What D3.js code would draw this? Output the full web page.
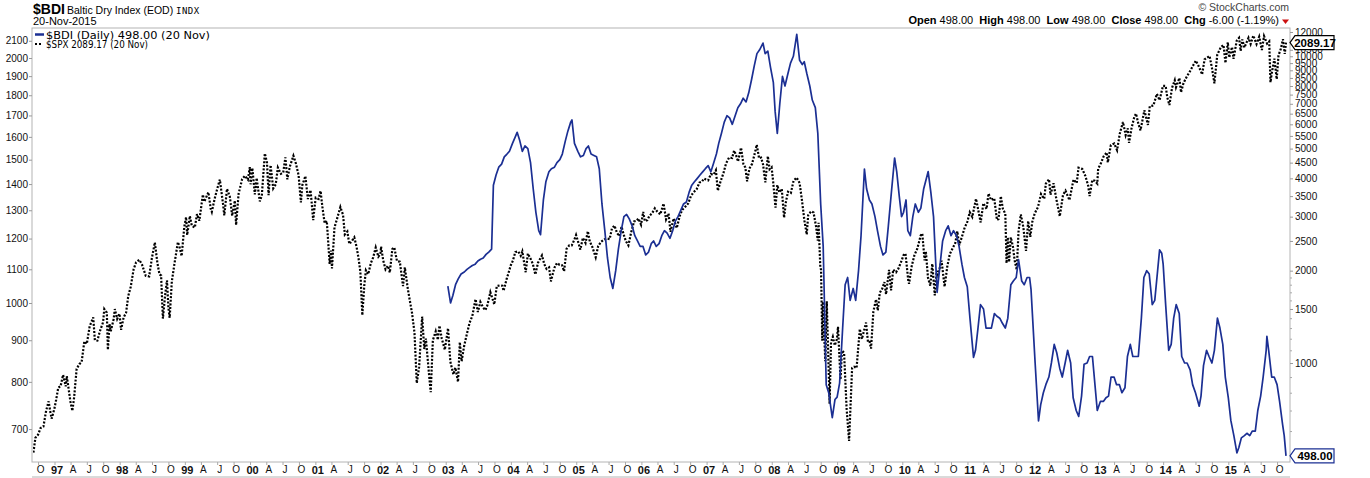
<!DOCTYPE html>
<html><head><meta charset="utf-8">
<script src="https://cdn.jsdelivr.net/npm/d3@7"></script>
<style>body{margin:0;background:#fff}svg{display:block}</style>
</head><body>
<svg id="c" width="1370" height="478"></svg>
<script>
// ---------- DATA ([month, day, value]) ----------
const spx1996 = [[9,5,655],[9,16,683],[10,1,689],[10,15,702],[10,31,705],[11,15,737],[11,29,757],[12,10,732],[12,16,721],[12,31,741]];
const spx1997 = [[1,10,760],[1,22,787],[2,4,790],[2,18,816],[3,5,790],[3,11,813],[3,31,757],[4,11,737],[4,21,766],[5,5,830],[5,20,841],[6,2,846],[6,17,897],[7,1,891],[7,17,936],[8,6,960],[8,15,900],[8,29,899],[9,12,923],[9,30,947],[10,7,983],[10,21,973],[10,27,876],[11,5,942],[11,12,923],[11,28,955],[12,5,983],[12,18,956],[12,31,970]];
const spx1998 = [[1,9,927],[1,23,960],[2,6,973],[2,18,1020],[3,4,1047],[3,20,1100],[4,3,1122],[4,21,1130],[5,6,1115],[5,27,1080],[6,15,1078],[6,30,1134],[7,17,1187],[7,31,1121],[8,12,1084],[8,21,1081],[8,31,957],[9,14,1029],[9,23,1066],[10,1,986],[10,8,959],[10,20,1062],[11,2,1111],[11,23,1188],[12,1,1175],[12,14,1142],[12,29,1241]];
const spx1999 = [[1,8,1275],[1,14,1212],[1,29,1279],[2,9,1244],[2,26,1238],[3,10,1286],[3,23,1262],[4,12,1359],[4,20,1332],[5,13,1368],[5,26,1305],[6,1,1294],[6,17,1343],[7,1,1380],[7,16,1418],[8,2,1328],[8,10,1281],[8,25,1381],[9,10,1351],[9,23,1280],[10,8,1336],[10,15,1247],[10,29,1362],[11,18,1420],[12,3,1433],[12,20,1418],[12,31,1469]];
const spx2000 = [[1,4,1399],[1,14,1465],[1,28,1360],[2,7,1424],[2,25,1333],[3,7,1355],[3,24,1527],[4,5,1487],[4,14,1357],[4,25,1477],[5,10,1383],[5,24,1399],[6,5,1467],[6,22,1441],[7,5,1446],[7,17,1510],[7,28,1419],[8,11,1471],[8,31,1517],[9,14,1484],[9,29,1436],[10,12,1329],[10,20,1396],[11,6,1432],[11,20,1342],[12,5,1376],[12,20,1264],[12,29,1320]];
const spx2001 = [[1,3,1347],[1,19,1342],[1,30,1373],[2,9,1314],[2,22,1253],[3,6,1261],[3,22,1117],[3,30,1160],[4,4,1103],[4,18,1238],[5,1,1266],[5,21,1312],[6,5,1283],[6,15,1214],[6,29,1224],[7,10,1182],[7,24,1191],[8,7,1204],[8,20,1171],[8,31,1134],[9,10,1092],[9,21,966],[10,2,1051],[10,11,1097],[10,24,1085],[11,8,1120],[11,21,1138],[12,5,1170],[12,20,1140],[12,31,1148]];
const spx2002 = [[1,4,1173],[1,16,1128],[1,29,1100],[2,11,1111],[2,22,1090],[3,8,1165],[3,19,1170],[4,3,1126],[4,19,1124],[5,7,1049],[5,17,1106],[6,3,1040],[6,14,1007],[6,26,973],[7,10,920],[7,23,797],[8,5,834],[8,22,962],[9,3,878],[9,12,904],[9,30,815],[10,9,777],[10,21,900],[11,6,923],[11,18,901],[11,27,938],[12,10,904],[12,27,876]];
const spx2003 = [[1,14,931],[1,27,847],[2,13,817],[2,24,833],[3,11,800],[3,21,895],[3,31,848],[4,14,885],[4,30,917],[5,15,946],[5,30,964],[6,17,1011],[6,30,975],[7,14,1003],[7,30,987],[8,11,980],[8,22,993],[9,8,1031],[9,30,996],[10,14,1049],[10,31,1051],[11,14,1050],[11,21,1035],[12,8,1070],[12,19,1089],[12,31,1112]];
const spx2004 = [[1,12,1127],[1,26,1155],[2,11,1157],[2,25,1143],[3,5,1157],[3,24,1091],[4,5,1150],[4,19,1135],[5,3,1117],[5,17,1084],[6,1,1121],[6,23,1144],[7,6,1116],[7,19,1101],[8,2,1106],[8,12,1063],[8,31,1104],[9,15,1120],[9,30,1114],[10,13,1113],[10,25,1094],[11,8,1166],[11,23,1177],[12,7,1177],[12,20,1194],[12,31,1212]];
const spx2005 = [[1,14,1184],[1,24,1163],[2,7,1202],[2,22,1185],[3,7,1225],[3,18,1190],[4,1,1172],[4,20,1138],[5,4,1175],[5,20,1189],[6,7,1197],[6,23,1200],[7,7,1198],[7,20,1235],[8,3,1245],[8,17,1220],[8,30,1208],[9,12,1241],[9,23,1215],[10,6,1191],[10,20,1177],[11,4,1220],[11,21,1260],[12,5,1262],[12,15,1270],[12,30,1248]];
const spx2006 = [[1,11,1294],[1,20,1261],[2,3,1264],[2,15,1280],[3,2,1289],[3,17,1307],[3,31,1295],[4,17,1285],[5,5,1325],[5,19,1267],[6,2,1288],[6,13,1223],[6,30,1270],[7,18,1236],[8,4,1280],[8,18,1302],[9,1,1311],[9,20,1325],[10,5,1353],[10,20,1368],[11,6,1379],[11,22,1406],[12,5,1409],[12,18,1422],[12,29,1418]];
const spx2007 = [[1,10,1415],[1,25,1440],[2,9,1438],[2,22,1456],[3,5,1374],[3,20,1410],[4,5,1443],[4,20,1484],[5,7,1509],[5,24,1507],[6,4,1539],[6,14,1522],[6,26,1492],[7,13,1552],[7,26,1482],[8,6,1467],[8,16,1411],[8,29,1463],[9,13,1483],[9,28,1527],[10,9,1565],[10,22,1506],[11,2,1509],[11,13,1481],[11,26,1407],[12,10,1515],[12,20,1460],[12,31,1468]];
const spx2008 = [[1,9,1409],[1,22,1310],[2,1,1396],[2,13,1367],[2,26,1381],[3,10,1273],[3,20,1330],[4,1,1370],[4,17,1365],[5,2,1413],[5,19,1426],[6,5,1404],[6,18,1338],[7,2,1262],[7,15,1214],[7,23,1282],[8,8,1296],[8,22,1292],[9,5,1242],[9,15,1193],[9,19,1255],[9,29,1106],[10,3,1099],[10,10,899],[10,13,1003],[10,27,848],[11,4,1005],[11,20,752],[11,28,896],[12,8,909],[12,19,887],[12,31,903]];
const spx2009 = [[1,6,935],[1,20,805],[1,28,874],[2,9,869],[2,23,743],[3,9,677],[3,26,832],[4,6,835],[4,20,832],[5,8,929],[5,20,903],[6,12,946],[6,23,895],[7,2,896],[7,10,879],[7,23,976],[8,7,1010],[8,17,979],[8,28,1029],[9,11,1042],[9,23,1061],[10,2,1025],[10,19,1098],[10,30,1036],[11,11,1099],[11,27,1091],[12,10,1102],[12,28,1127]];
const spx2010 = [[1,8,1145],[1,19,1150],[2,4,1063],[2,8,1056],[2,22,1108],[3,10,1145],[3,26,1166],[4,14,1210],[4,23,1217],[5,6,1128],[5,13,1157],[5,25,1074],[6,7,1050],[6,18,1117],[7,2,1022],[7,13,1095],[7,20,1083],[8,9,1127],[8,26,1047],[9,10,1109],[9,24,1148],[10,8,1165],[10,25,1185],[11,5,1225],[11,16,1178],[12,1,1206],[12,15,1235],[12,31,1258]];
const spx2011 = [[1,14,1293],[1,28,1276],[2,18,1343],[3,1,1306],[3,16,1256],[3,31,1326],[4,18,1305],[4,29,1363],[5,13,1338],[5,31,1345],[6,15,1265],[6,24,1268],[7,7,1353],[7,18,1306],[8,1,1287],[8,8,1119],[8,15,1204],[8,22,1123],[9,1,1204],[9,13,1172],[9,22,1129],[10,4,1099],[10,14,1224],[10,27,1285],[11,10,1239],[11,25,1159],[12,7,1261],[12,19,1206],[12,30,1258]];
const spx2012 = [[1,13,1289],[1,31,1312],[2,17,1361],[3,6,1343],[3,15,1402],[4,2,1419],[4,10,1358],[4,27,1403],[5,14,1338],[6,1,1278],[6,19,1357],[7,3,1374],[7,25,1338],[8,17,1418],[9,4,1404],[9,14,1466],[10,5,1461],[10,22,1433],[11,7,1394],[11,15,1353],[11,30,1416],[12,14,1413],[12,28,1402]];
const spx2013 = [[1,2,1462],[1,18,1486],[2,1,1513],[2,19,1531],[2,25,1488],[3,14,1563],[4,2,1570],[4,18,1541],[5,3,1614],[5,21,1669],[6,5,1608],[6,17,1639],[6,24,1573],[7,8,1640],[7,23,1692],[8,2,1709],[8,15,1661],[8,27,1630],[9,18,1725],[10,8,1655],[10,18,1745],[11,7,1748],[11,27,1807],[12,12,1775],[12,31,1848]];
const spx2014 = [[1,15,1848],[1,24,1790],[2,5,1751],[2,20,1839],[3,7,1878],[3,14,1841],[4,2,1890],[4,11,1815],[4,25,1863],[5,13,1897],[5,30,1924],[6,20,1962],[7,3,1985],[7,17,1958],[8,1,1925],[8,7,1909],[8,21,1992],[9,18,2011],[10,1,1946],[10,15,1862],[10,31,2018],[11,21,2064],[12,5,2075],[12,16,1972],[12,29,2091]];
const spx2015 = [[1,6,2002],[1,22,2063],[1,30,1995],[2,17,2100],[3,2,2117],[3,11,2040],[3,20,2108],[4,1,2060],[4,24,2117],[5,6,2081],[5,21,2131],[6,8,2080],[6,23,2124],[7,8,2046],[7,20,2128],[8,6,2083],[8,18,2096],[8,25,1867],[9,1,1914],[9,16,1996],[9,29,1884],[10,9,2015],[10,22,2052],[11,3,2109],[11,13,2023],[11,20,2089.17]];

const bdi2003 = [[1,13,1780],[1,28,1570],[2,10,1660],[2,25,1800],[3,12,1880],[3,28,1950],[4,15,1980],[4,30,2020],[5,15,2050],[5,30,2080],[6,15,2100],[6,30,2150],[7,15,2180],[7,30,2200],[8,15,2260],[8,30,2300],[9,15,2350],[9,25,3800],[10,10,4100],[10,25,4350],[11,10,4450],[11,25,4700],[12,10,4800],[12,24,4900]];
const bdi2004 = [[1,10,5200],[1,25,5450],[2,5,5650],[2,20,5300],[3,5,4900],[3,20,5100],[4,5,5000],[4,20,4500],[5,5,3700],[5,20,3100],[6,5,2700],[6,15,2620],[7,1,3400],[7,15,3900],[8,1,4200],[8,15,4300],[9,1,4350],[9,15,4500],[10,1,4600],[10,15,4800],[11,1,5300],[11,15,5700],[12,1,6100],[12,8,6200],[12,22,5200]];
const bdi2005 = [[1,10,4900],[1,25,4700],[2,10,4750],[2,25,5000],[3,10,5100],[3,25,4800],[4,10,4750],[4,25,4700],[5,10,4300],[5,25,3300],[6,10,2700],[6,25,2200],[7,10,1900],[7,25,1750],[8,10,2000],[8,25,2350],[9,10,2700],[9,25,3000],[10,10,3050],[10,25,2950],[11,10,2800],[11,25,2600],[12,10,2500],[12,25,2400]];
const bdi2006 = [[1,10,2400],[1,25,2250],[2,10,2300],[2,25,2450],[3,10,2500],[3,25,2400],[4,10,2450],[4,25,2600],[5,10,2700],[5,25,2650],[6,10,2550],[6,25,2700],[7,10,2900],[7,25,3000],[8,10,3150],[8,25,3300],[9,10,3350],[9,25,3600],[10,10,3800],[10,25,3900],[11,10,4000],[11,25,4100],[12,10,4200],[12,25,4300]];
const bdi2007 = [[1,10,4400],[1,25,4200],[2,10,4500],[2,25,4800],[3,10,5200],[3,25,5600],[4,10,6100],[4,25,6400],[5,10,6300],[5,25,6000],[6,10,6400],[6,25,6800],[7,10,7000],[7,25,7300],[8,10,7100],[8,25,7600],[9,10,8400],[9,25,9300],[10,10,10200],[10,25,10500],[11,13,11040],[11,25,10200],[12,10,10400],[12,25,9200]];
const bdi2008 = [[1,10,8200],[1,20,6600],[2,1,5600],[2,15,7000],[3,1,8600],[3,15,8000],[4,1,8800],[4,15,9500],[5,1,10000],[5,20,11790],[6,5,9700],[6,20,9400],[7,1,9600],[7,15,8800],[8,1,8000],[8,15,7200],[9,1,6800],[9,15,5600],[10,1,3300],[10,15,2400],[11,1,850],[11,15,800],[12,5,663],[12,20,760]];
const bdi2009 = [[1,1,774],[1,15,860],[2,1,1300],[2,15,1800],[3,1,1900],[3,15,1600],[4,1,1750],[4,15,1600],[5,1,2000],[5,15,2600],[6,3,4290],[6,15,3700],[7,1,3400],[7,15,3300],[8,1,3000],[8,15,2700],[9,1,2400],[9,15,2250],[10,1,2300],[10,15,2800],[11,1,3600],[11,19,4660],[12,1,4200],[12,15,3500],[12,28,3000]];
const bdi2010 = [[1,8,3100],[1,22,3400],[2,1,2700],[2,15,2600],[3,1,3000],[3,15,3300],[4,1,3100],[4,15,3200],[5,1,3700],[5,26,4209],[6,10,3600],[6,25,3000],[7,15,1700],[8,1,2100],[8,15,2500],[9,1,2700],[9,15,2800],[10,1,2600],[10,15,2700],[11,1,2600],[11,15,2400],[12,1,2100],[12,15,1900],[12,31,1773]];
const bdi2011 = [[1,15,1400],[2,4,1043],[2,15,1100],[3,1,1300],[3,15,1550],[4,1,1500],[4,15,1300],[5,1,1300],[5,15,1300],[6,1,1450],[6,15,1420],[7,1,1400],[7,15,1350],[8,1,1300],[8,15,1400],[9,1,1800],[9,15,1850],[10,1,1900],[10,14,2173],[11,1,1850],[11,15,1800],[12,1,1900],[12,15,1900],[12,23,1738]];
const bdi2012 = [[1,15,1000],[2,3,647],[2,15,730],[3,1,800],[3,15,850],[4,1,900],[4,15,1000],[5,1,1150],[5,15,1080],[6,1,960],[6,15,900],[7,1,1000],[7,15,1100],[8,1,1000],[8,15,770],[9,1,700],[9,15,670],[10,1,780],[10,15,990],[11,1,1000],[11,15,1050],[12,1,1050],[12,15,850],[12,28,700]];
const bdi2013 = [[1,15,750],[2,1,750],[2,15,770],[3,1,780],[3,15,900],[4,1,900],[4,15,850],[5,1,850],[5,15,800],[6,1,830],[6,15,1050],[7,1,1150],[7,15,1050],[8,1,1050],[8,15,1050],[9,1,1400],[9,15,1900],[10,1,2000],[10,15,1950],[11,1,1550],[11,15,1600],[12,1,2000],[12,12,2337],[12,24,2280]];
const bdi2014 = [[1,1,2100],[1,15,1550],[2,1,1100],[2,15,1150],[3,1,1400],[3,15,1550],[4,1,1450],[4,15,1050],[5,1,1000],[5,15,1000],[6,1,950],[6,15,850],[7,1,800],[7,22,723],[8,1,780],[8,15,980],[9,1,1100],[9,15,1050],[10,1,1000],[10,15,1100],[11,1,1400],[11,15,1300],[12,1,1150],[12,15,900]];
const bdi2015 = [[1,1,770],[1,15,650],[2,1,580],[2,18,509],[3,1,530],[3,15,570],[4,1,580],[4,15,590],[5,1,580],[5,15,600],[6,1,600],[6,15,700],[7,1,780],[7,15,900],[8,1,1100],[8,5,1222],[8,15,1100],[9,1,900],[9,15,900],[10,1,850],[10,15,750],[11,1,630],[11,10,580],[11,20,498]];

const leftTicks = [700,800,900,1000,1100,1200,1300,1400,1500,1600,1700,1800,1900,2000,2100];
const rightTicks = [1000,1500,2000,2500,3000,3500,4000,4500,5000,5500,6000,6500,7000,7500,8000,8500,9000,9500,10000,10500,12000];
const rightMinor = [500,600,700,800,900,1100,1200,1300,1400,1600,1700,1800,1900];
const monthLetters = {3:"A",6:"J",9:"O"};
const bdiLast = "498.00", spxLast = "2089.17";

// ---------- CHART ----------
const svg = d3.select("#c");
const FONT = "'Liberation Sans', Arial, sans-serif";
const L = 32, R = 1290, T = 28, B = 462;
const BLUE = "#1b2f93";

const x = d3.scaleTime().domain([new Date(1997,0,1), new Date(2015,10,20)]).range([54.5, 1286]);
const yL = d3.scaleLog().domain([1000,2000]).range([303,58]);
const yR = d3.scaleLog().domain([1000,8000]).range([363,86]);

function pts(list){ return list.flatMap(([yr,arr]) => arr.map(([m,d,v]) => ({date:new Date(yr,m-1,d), v}))); }
const spx = pts([[1996,spx1996],[1997,spx1997],[1998,spx1998],[1999,spx1999],[2000,spx2000],[2001,spx2001],[2002,spx2002],[2003,spx2003],[2004,spx2004],[2005,spx2005],[2006,spx2006],[2007,spx2007],[2008,spx2008],[2009,spx2009],[2010,spx2010],[2011,spx2011],[2012,spx2012],[2013,spx2013],[2014,spx2014],[2015,spx2015]]);
const bdi = pts([[2003,bdi2003],[2004,bdi2004],[2005,bdi2005],[2006,bdi2006],[2007,bdi2007],[2008,bdi2008],[2009,bdi2009],[2010,bdi2010],[2011,bdi2011],[2012,bdi2012],[2013,bdi2013],[2014,bdi2014],[2015,bdi2015]]);

// header
svg.append("text").attr("x",33).attr("y",14).attr("font-family",FONT).attr("font-size",14).attr("font-weight","bold").text("$BDI");
svg.append("text").attr("x",67).attr("y",14).attr("font-family",FONT).attr("font-size",10.5).text("Baltic Dry Index (EOD)");
svg.append("text").attr("x",176).attr("y",14).attr("font-family","'DejaVu Sans Mono', monospace").attr("font-size",9).attr("letter-spacing",0.5).text("INDX");
svg.append("text").attr("x",33).attr("y",25).attr("font-family",FONT).attr("font-size",11).text("20-Nov-2015");
svg.append("text").attr("x",1289).attr("y",11).attr("text-anchor","end").attr("font-family",FONT).attr("font-size",10.5).attr("fill","#444").text("© StockCharts.com");
const ohlc = svg.append("text").attr("x",1279).attr("y",24).attr("text-anchor","end").attr("font-family",FONT).attr("font-size",11);
[["Open",true],[" 498.00  ",false],["High",true],[" 498.00  ",false],["Low",true],[" 498.00  ",false],["Close",true],[" 498.00  ",false],["Chg",true],[" -6.00 (-1.19%)",false]]
  .forEach(([t,b]) => ohlc.append("tspan").attr("font-weight",b?"bold":"normal").attr("xml:space","preserve").text(t));
svg.append("path").attr("d","M1282,19.5L1289,19.5L1285.5,24Z").attr("fill","#cc1111");

// frame
svg.append("rect").attr("x",L).attr("y",T).attr("width",R-L).attr("height",B-T).attr("fill","none").attr("stroke","#b4b4b4");
svg.append("line").attr("x1",L).attr("x2",R).attr("y1",477).attr("y2",477).attr("stroke","#b4b4b4");

// left axis
const gL = svg.append("g").attr("transform",`translate(${L},0)`)
  .call(d3.axisLeft(yL).tickValues(leftTicks).tickFormat(d3.format("d")).tickSize(3).tickPadding(1));
gL.select(".domain").remove();
gL.selectAll("line").attr("stroke","#999");
gL.selectAll("text").attr("font-family",FONT).attr("font-size",10).attr("fill","#111");

// right axis
const gR = svg.append("g").attr("transform",`translate(${R},0)`)
  .call(d3.axisRight(yR).tickValues(rightTicks).tickFormat(d3.format("d")).tickSize(3).tickPadding(2));
gR.select(".domain").remove();
gR.selectAll("line").attr("stroke","#999");
gR.selectAll("text").attr("font-family",FONT).attr("font-size",10).attr("fill","#111");
const gRm = svg.append("g").attr("transform",`translate(${R},0)`)
  .call(d3.axisRight(yR).tickValues(rightMinor).tickFormat("").tickSize(2));
gRm.select(".domain").remove();
gRm.selectAll("line").attr("stroke","#aaa");

// bottom axis
const quarters = d3.timeMonth.every(3).range(new Date(1996,9,1), new Date(2015,10,2));
const gB = svg.append("g").attr("transform",`translate(0,${B})`)
  .call(d3.axisBottom(x).tickValues(quarters).tickSize(3).tickPadding(1)
    .tickFormat(d => d.getMonth()===0 ? d3.timeFormat("%y")(d) : monthLetters[d.getMonth()]));
gB.select(".domain").remove();
gB.selectAll("line").attr("stroke","#aaa");
gB.selectAll("text").attr("font-family",FONT).attr("fill","#111").attr("dx",2)
  .attr("font-weight", d => d.getMonth()===0 ? "bold" : "normal")
  .attr("font-size", d => d.getMonth()===0 ? 11 : 10);

// clip
svg.append("clipPath").attr("id","clip").append("rect").attr("x",L+1).attr("y",T+1).attr("width",R-L-1).attr("height",B-T-1);
const plot = svg.append("g").attr("clip-path","url(#clip)");

plot.append("path").datum(spx).attr("fill","none").attr("stroke","#000").attr("stroke-width",2.2)
  .attr("stroke-dasharray","2,1.6")
  .attr("d", d3.line().x(d=>x(d.date)).y(d=>yL(d.v)));
plot.append("path").datum(bdi).attr("fill","none").attr("stroke",BLUE).attr("stroke-width",1.7).attr("stroke-linejoin","round")
  .attr("d", d3.line().x(d=>x(d.date)).y(d=>yR(d.v)));

// legend
svg.append("line").attr("x1",35).attr("x2",44).attr("y1",34.5).attr("y2",34.5).attr("stroke",BLUE).attr("stroke-width",2.5);
svg.append("text").attr("x",46).attr("y",38.5).attr("font-family","'DejaVu Sans', sans-serif").attr("font-size",10.5)
  .attr("textLength",164).attr("lengthAdjust","spacingAndGlyphs").text(`$BDI (Daily) ${bdiLast} (20 Nov)`);
svg.append("rect").attr("x",35).attr("y",43).attr("width",2).attr("height",2).attr("fill","#000");
svg.append("rect").attr("x",39).attr("y",43).attr("width",2).attr("height",2).attr("fill","#000");
svg.append("text").attr("x",46).attr("y",47.5).attr("font-family","'DejaVu Sans', sans-serif").attr("font-size",10)
  .attr("textLength",102).attr("lengthAdjust","spacingAndGlyphs").text(`$SPX ${spxLast} (20 Nov)`);

// price tags
function tag(yv, label, color){
  const g = svg.append("g");
  g.append("path").attr("d",`M${R},${yv}L${R+5},${yv-7}L${R+44},${yv-7}L${R+44},${yv+7}L${R+5},${yv+7}Z`)
    .attr("fill","#fff").attr("stroke",color).attr("stroke-width",1.2);
  g.append("text").attr("x",R+25).attr("y",yv+4).attr("text-anchor","middle").attr("font-family",FONT)
    .attr("font-size",11.5).attr("font-weight","bold").attr("fill","#000").text(label);
}
tag(yL(+spxLast), spxLast, "#000");
tag(yR(+bdiLast), bdiLast, BLUE);
</script>
</body></html>
